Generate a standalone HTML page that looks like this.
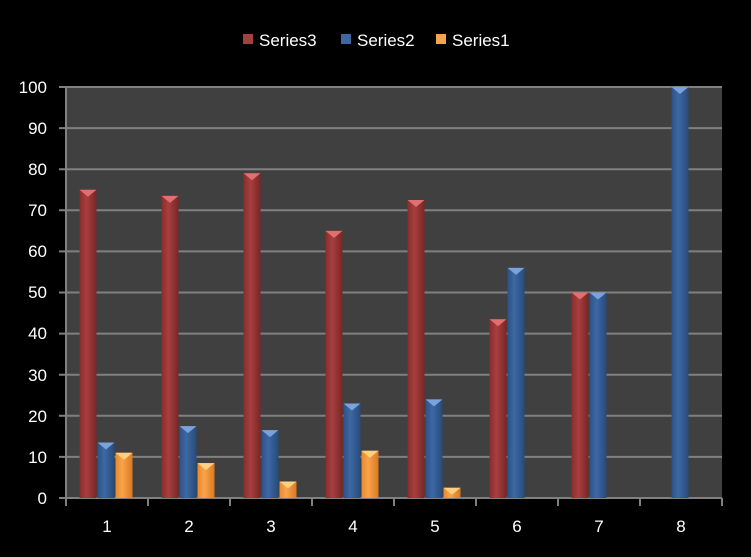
<!DOCTYPE html>
<html><head><meta charset="utf-8"><style>
body{margin:0;background:#000;width:751px;height:552px;overflow:hidden}
text{font-family:"Liberation Sans",sans-serif;fill:#fff}
</style></head><body>
<svg id="s" width="751" height="552" xmlns="http://www.w3.org/2000/svg">
<defs>
<linearGradient id="r" x1="0" x2="1"><stop offset="0" stop-color="#8a2c2c"/><stop offset="0.4" stop-color="#a83f3f"/><stop offset="1" stop-color="#7a2525"/></linearGradient>
<linearGradient id="b" x1="0" x2="1"><stop offset="0" stop-color="#2c5287"/><stop offset="0.4" stop-color="#3d68a4"/><stop offset="1" stop-color="#274a7a"/></linearGradient>
<linearGradient id="o" x1="0" x2="1"><stop offset="0" stop-color="#e8892e"/><stop offset="0.4" stop-color="#fba34a"/><stop offset="1" stop-color="#d97a22"/></linearGradient>
</defs>
<rect x="66" y="87" width="656" height="411" fill="#404040"/>
<g id="g"></g>
<g font-size="17" text-anchor="end">
<text x="47" y="93">100</text><text x="47" y="134">90</text><text x="47" y="175">80</text><text x="47" y="216">70</text><text x="47" y="257">60</text><text x="47" y="298">50</text><text x="47" y="339">40</text><text x="47" y="381">30</text><text x="47" y="422">20</text><text x="47" y="463">10</text><text x="47" y="504">0</text>
</g>
<g font-size="17" text-anchor="middle">
<text x="107" y="532">1</text><text x="189" y="532">2</text><text x="271" y="532">3</text><text x="353" y="532">4</text><text x="435" y="532">5</text><text x="517" y="532">6</text><text x="599" y="532">7</text><text x="681" y="532">8</text>
</g>
<g font-size="17">
<rect x="243" y="34" width="10" height="10" fill="#a83f3f"/><text x="259" y="46">Series3</text>
<rect x="341" y="34" width="10" height="10" fill="#3d68a4"/><text x="357" y="46">Series2</text>
<rect x="436" y="34" width="10" height="10" fill="#fba34a"/><text x="452" y="46">Series1</text>
</g>
</svg>
<script>
var g=document.getElementById('g'),h='';
for(var i=0;i<=10;i++){var y=498-i*41.1;h+='<line x1="59" x2="722" y1="'+y+'" y2="'+y+'" stroke="#808080" stroke-width="2"/>';}
h+='<line x1="66" x2="66" y1="87" y2="498" stroke="#808080" stroke-width="2"/>';
for(var i=0;i<=8;i++){var x=66+i*82;h+='<line x1="'+x+'" x2="'+x+'" y1="498" y2="506" stroke="#808080" stroke-width="2"/>';}
var d=[[75,73.5,79,65,72.5,43.5,50,0],[13.5,17.5,16.5,23,24,56,50,100],[11,8.5,4,11.5,2.5,0,0,0]];
var c=['r','b','o'],tc=['#e07070','#7aa2dc','#ffd080'];
for(var s=0;s<3;s++)for(var i=0;i<8;i++){var v=d[s][i];if(!v)continue;var x=66+i*82+13.5+s*18,y=498-v*4.11;
h+='<rect x="'+x+'" y="'+y+'" width="17" height="'+(498-y)+'" fill="url(#'+c[s]+')"/>';
h+='<polygon points="'+x+','+y+' '+(x+17)+','+y+' '+(x+8.5)+','+(y+7)+'" fill="'+tc[s]+'"/>';}
g.innerHTML=h;
</script>
</body></html>
